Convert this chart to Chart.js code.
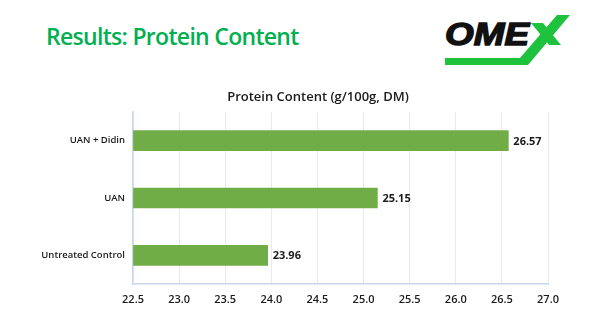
<!DOCTYPE html>
<html>
<head>
<meta charset="utf-8">
<script src="https://cdn.jsdelivr.net/npm/chart.js@4"></script>
<style>
  html, body { margin: 0; padding: 0; background: #ffffff; }
  body { width: 602px; height: 335px; position: relative; overflow: hidden; }
  #heading {
    position: absolute; left: 46px; top: 20px;
    font-family: "Open Sans", sans-serif; font-weight: 600; font-size: 23px;
    color: #00b050; letter-spacing: -0.7px; white-space: nowrap;
  }
  #logo { position: absolute; left: 440px; top: 10px; }
  #wrap { position: absolute; left: 36px; top: 81px; width: 564px; height: 233px; }
</style>
</head>
<body>
<div id="heading">Results: Protein Content</div>
<svg id="logo" width="140" height="64" viewBox="0 0 140 64">
  <!-- underline swoosh rising into the X -->
  <polygon points="5,48 80,48 117,5 130,5 88,55 5,55" fill="#1ec23c"/>
  <polygon points="91,13 103,13 121,35 109,35" fill="#1ec23c"/>
  <text x="5" y="35" font-family="Liberation Sans, Arial, sans-serif" font-weight="700"
        font-style="italic" font-size="31" fill="#111" stroke="#111" stroke-width="1.4"
        textLength="84" lengthAdjust="spacingAndGlyphs">OME</text>
</svg>
<div id="wrap"><canvas id="c"></canvas></div>
<script>
// Protein content per treatment (g/100g, DM)
const categories = ['UAN + Didin', 'UAN', 'Untreated Control'];
const proteinValues = [26.57, 25.15, 23.96];
const xTickValues = [22.5, 23.0, 23.5, 24.0, 24.5, 25.0, 25.5, 26.0, 26.5, 27.0];
const chartTitle = 'Protein Content (g/100g, DM)';

const baseFamily = '"Open Sans", sans-serif';

// Title centred across the whole canvas (the built-in one centres inside the padding)
const centredTitle = {
  id: 'centredTitle',
  afterDraw(chart) {
    const { ctx } = chart;
    ctx.save();
    ctx.font = '600 13px ' + baseFamily;
    ctx.fillStyle = '#1a1a1a';
    ctx.textAlign = 'center';
    ctx.textBaseline = 'middle';
    ctx.fillText(chartTitle, chart.width / 2, 16);
    ctx.restore();
  }
};

// Writes each bar's value just past its end
const valueLabels = {
  id: 'valueLabels',
  afterDatasetsDraw(chart) {
    const { ctx } = chart;
    const meta = chart.getDatasetMeta(0);
    ctx.save();
    ctx.font = '700 11px ' + baseFamily;
    ctx.fillStyle = '#1a1a1a';
    ctx.textAlign = 'left';
    ctx.textBaseline = 'middle';
    meta.data.forEach((bar, i) => {
      ctx.fillText(proteinValues[i].toFixed(2), bar.x + 5, bar.y + 1);
    });
    ctx.restore();
  }
};

new Chart(document.getElementById('c'), {
  type: 'bar',
  data: {
    labels: categories,
    datasets: [{
      data: proteinValues,
      base: xTickValues[0],
      backgroundColor: '#70ad47',
      borderWidth: 0,
      barThickness: 20
    }]
  },
  options: {
    indexAxis: 'y',
    responsive: true,
    maintainAspectRatio: false,
    animation: false,
    layout: { padding: { right: 52, left: 0, top: 31, bottom: 0 } },
    plugins: {
      legend: { display: false },
      tooltip: { enabled: false },
      title: { display: false }
    },
    scales: {
      x: {
        min: xTickValues[0],
        max: xTickValues[xTickValues.length - 1],
        afterBuildTicks(scale) {
          scale.ticks = xTickValues.map(v => ({ value: v }));
        },
        afterFit(scale) { scale.height = 30; },
        ticks: {
          color: '#1a1a1a',
          font: { family: baseFamily, size: 11, weight: '600' },
          padding: 9,
          maxRotation: 0,
          callback: v => Number(v).toFixed(1)
        },
        grid: { color: '#e9e9e9', lineWidth: 1, drawTicks: false },
        border: { display: true, color: '#c6d6ee', width: 1.5 }
      },
      y: {
        afterFit(scale) { scale.width = 97; },
        ticks: { color: '#1a1a1a', font: { family: baseFamily, size: 9.5, weight: '600' }, padding: 8 },
        grid: { display: false, drawTicks: false },
        border: { display: true, color: '#c6d6ee', width: 1.5 }
      }
    }
  },
  plugins: [centredTitle, valueLabels]
});
</script>
</body>
</html>
